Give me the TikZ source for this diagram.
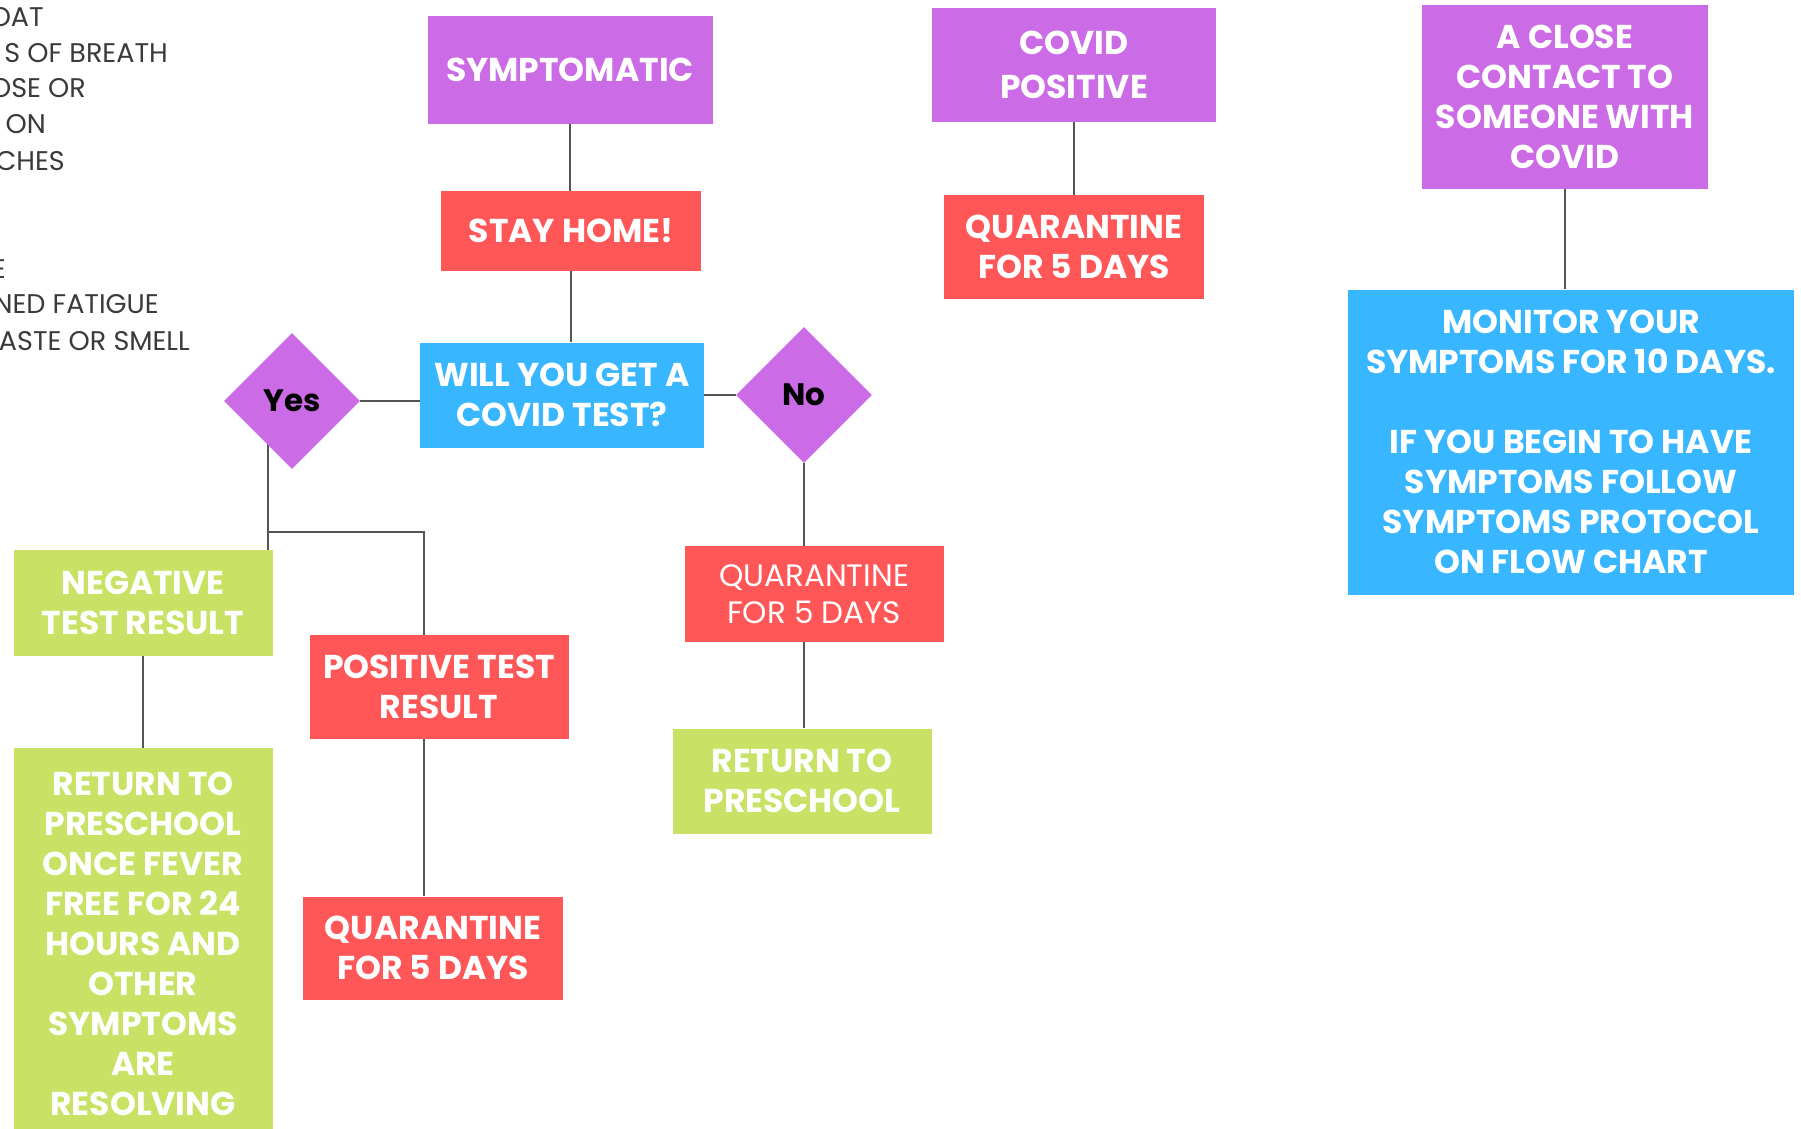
\documentclass[tikz,border=0pt]{standalone}
\usepackage{fontspec}
\setmainfont{Poppins}
\usetikzlibrary{shapes.geometric,backgrounds}
\definecolor{cpurple}{HTML}{CB6CE6}
\definecolor{cred}{HTML}{FF5757}
\definecolor{cblue}{HTML}{38B6FF}
\definecolor{cgreen}{HTML}{C9E265}
\definecolor{cline}{HTML}{555555}
\definecolor{ctext}{HTML}{3A3A3A}
\tikzset{box/.style={rectangle,inner sep=0pt,align=center,text=white,font=\fontsize{33}{40}\selectfont\bfseries},
  purplebox/.style={box,fill=cpurple},redbox/.style={box,fill=cred},
  bluebox/.style={box,fill=cblue},greenbox/.style={box,fill=cgreen}}
\tikzset{choice/.style={diamond,fill=cpurple,minimum width=136pt,minimum height=136pt,inner sep=0pt,font=\fontsize{31}{40}\selectfont\bfseries}}
\tikzset{link/.style={draw=cline,line width=2pt},side/.style={anchor=east,inner sep=0pt,text=ctext,font=\fontsize{27}{36}\selectfont}}

\begin{document}
\begin{tikzpicture}[x=1pt,y=-1pt]
  \useasboundingbox (0,0) rectangle (1801,1129);
  % symptoms list, cut at the left edge
  \foreach \t/\x/\y [count=\i] in {OAT/44/17,S OF BREATH/168/53,OSE OR/86/88,ON/46/124,%
    CHES/65/161,E/6/269,NED FATIGUE/159/304,ASTE OR SMELL/190/341}
    \node[side] (sym\i) at (\x,\y) {\t};
  % symptomatic branch
  \node[purplebox,minimum width=285,minimum height=108] (symp) at (570,70) {SYMPTOMATIC};
  \node[redbox,minimum width=260,minimum height=80] (stay) at (571,231) {STAY HOME!};
  \node[bluebox,minimum width=284,minimum height=105] (test) at (562,395) {WILL YOU GET A\\COVID TEST?};
  \node[choice] (yes) at (292,401) {Yes};
  \node[choice] (no) at (804,395) {No};
  \node[greenbox,minimum width=259,minimum height=106] (neg) at (143,603) {NEGATIVE\\TEST RESULT};
  \node[greenbox,minimum width=259,minimum height=392,anchor=north] (back1) at (143,748)
    {RETURN TO\\PRESCHOOL\\ONCE FEVER\\FREE FOR 24\\HOURS AND\\OTHER\\SYMPTOMS\\ARE\\RESOLVING};
  \node[redbox,minimum width=259,minimum height=104] (pos) at (439,687) {POSITIVE TEST\\RESULT};
  \node[redbox,minimum width=260,minimum height=103] (quar1) at (433,948) {QUARANTINE\\FOR 5 DAYS};
  \node[redbox,minimum width=259,minimum height=96,font=\fontsize{31}{37}\selectfont] (quar2) at (814,594) {QUARANTINE\\FOR 5 DAYS};
  \node[greenbox,minimum width=259,minimum height=105] (back2) at (802,781) {RETURN TO\\PRESCHOOL};
  % covid positive
  \node[purplebox,minimum width=284,minimum height=114,font=\fontsize{33}{44}\selectfont\bfseries] (cpos) at (1074,65) {COVID\\POSITIVE};
  \node[redbox,minimum width=260,minimum height=104] (quar3) at (1074,247) {QUARANTINE\\FOR 5 DAYS};
  % close contact
  \node[purplebox,minimum width=286,minimum height=184] (close) at (1565,97) {A CLOSE\\CONTACT TO\\SOMEONE WITH\\COVID};
  \node[bluebox,minimum width=446,minimum height=305] (watch) at (1571,442)
    {MONITOR YOUR\\SYMPTOMS FOR 10 DAYS.\\[40pt]IF YOU BEGIN TO HAVE\\SYMPTOMS FOLLOW\\SYMPTOMS PROTOCOL\\ON FLOW CHART};
  \coordinate (split) at (268,532);
  \begin{scope}[on background layer]
    \draw[link] (symp.south) -- (symp.south |- stay.north);
    \draw[link] (stay.south) -- (stay.south |- test.north);
    \draw[link] (yes.east) -- (yes.east -| test.west);
    \draw[link] (test.east |- no.west) -- (no.west);
    \draw[link] (yes.center -| split) -- (neg.north -| split);
    \draw[link] (split) -| ([xshift=-15pt]pos.north);
    \draw[link] ([xshift=-15pt]pos.south) -- ([xshift=-15pt]pos.south |- quar1.north);
    \draw[link] (neg.south) -- (back1.north);
    \draw[link] (no.south) -- (no.south |- quar2.north);
    \draw[link] (no.south |- quar2.south) -- (no.south |- back2.north);
    \draw[link] (cpos.south) -- (cpos.south |- quar3.north);
    \draw[link] (close.south) -- (close.south |- watch.north);
  \end{scope}
\end{tikzpicture}
\end{document}
